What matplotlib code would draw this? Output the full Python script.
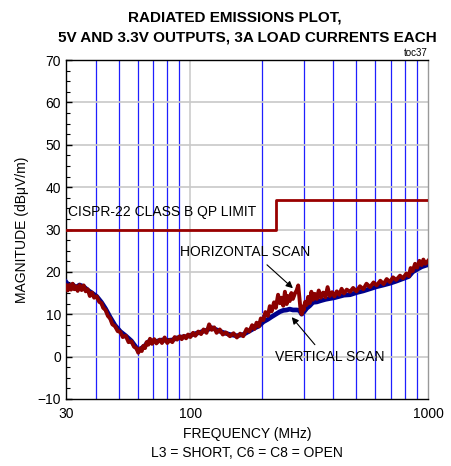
import matplotlib
matplotlib.use('Agg')
import matplotlib.pyplot as plt
import numpy as np

plt.rcParams['font.family'] = ['Liberation Sans', 'DejaVu Sans']

# values (MHz, dBuV/m)
horiz_f = [30, 30.5, 31, 31.5, 32, 32.5, 33, 33.6, 34.2, 34.9, 35.6, 36.3, 37, 37.8, 38.6,
           39.4, 40.4, 41.4, 42.3, 43.0, 44, 45, 46, 47, 48.2, 49.5, 50.8, 52, 53.5, 55,
           56.5, 58, 59.3, 60.4, 61.5, 62.5, 63.4, 64.5, 65.5, 66.6, 67.7, 69, 70.5, 72,
           74.4, 76, 78, 80, 82, 84, 86, 88, 90.3, 92, 94, 96, 97.8, 100, 102.7, 105, 108,
           111, 113.7, 117, 120, 123, 126, 129, 133, 137, 141, 146.8, 152, 157, 162, 167,
           172.4, 177, 182, 186, 190, 194, 198, 202.8, 207, 212, 216, 220, 225, 229, 234,
           238.3, 242, 246, 250, 254.4, 258, 262, 266, 270, 275.5, 280, 284.4, 288, 291,
           294, 297, 300, 304, 308.7, 313, 318, 323, 328, 334, 340.4, 347, 354, 362, 370,
           378, 386, 395, 404, 413.3, 423, 433, 443, 455, 469.8, 484, 500, 517, 534.2, 551,
           570, 590, 608, 630, 650, 670, 691.2, 712, 735, 762, 785, 810, 830, 845, 862,
           881.8, 900, 920, 940, 955.5, 975, 1000]
horiz_db = [16.8, 15.6, 16.9, 15.8, 17.2, 15.9, 16.6, 15.5, 16.9, 15.7, 16.8, 15.4, 15.9, 14.3, 15.1,
            13.9, 14.2, 12.9, 12.6, 11.5, 11.0, 9.6, 9.0, 7.6, 7.2, 6.0, 5.8, 4.6, 4.9, 3.4,
            3.6, 2.3, 2.0, 0.9, 1.9, 1.3, 2.5, 2.0, 3.4, 2.8, 4.2, 3.0, 4.1, 3.1,
            4.0, 3.2, 4.5, 3.2, 3.9, 3.4, 4.6, 4.0, 4.8, 4.1, 4.9, 4.3, 5.2, 4.6, 5.6, 4.9, 5.9,
            5.3, 6.4, 5.6, 7.6, 6.3, 6.9, 5.6, 6.4, 5.2, 5.7, 4.8, 5.5, 4.5, 5.4, 4.8,
            6.5, 5.9, 7.4, 6.5, 8.0, 7.1, 9.0, 8.6, 10.5, 9.6, 11.9, 10.7, 12.8, 11.5, 14.6,
            12.6, 13.9, 12.0, 15.3, 12.4, 14.3, 13.1, 15.0, 13.6, 14.9, 15.6, 16.8, 13.6, 11.0,
            10.0, 11.8, 11.0, 12.9, 12.2, 14.1, 12.6, 15.3, 13.4, 14.8, 13.6, 15.6, 13.9, 15.1, 14.0,
            16.4, 14.3, 15.2, 14.2, 15.4, 14.6, 16.0, 14.9, 15.8, 15.3, 16.2, 15.4, 16.6, 15.9, 17.2,
            16.4, 17.5, 16.8, 17.9, 17.1, 18.3, 17.6, 18.7, 18.1, 19.1, 18.5, 19.6, 19.0, 20.9, 20.2,
            21.9, 21.0, 22.6, 21.6, 22.9, 21.9, 22.6]

vert_f = [30, 31, 32, 33, 34.2, 35.6, 37, 38.6, 40.4, 42.3, 44, 46, 48.2, 50.8, 53.5,
          56.5, 59.3, 60.4, 62.5, 64.5, 66.6, 69, 72, 76, 80, 84, 88, 92, 96, 100, 105,
          111, 117, 123, 129, 137, 146.8, 157, 167, 177, 186, 194, 202.8, 212, 220, 229,
          238.3, 246, 254.4, 262, 270, 280, 288, 294, 300, 308.7, 318, 328, 340.4, 354,
          370, 386, 404, 423, 443, 469.8, 500, 534.2, 570, 608, 650, 691.2, 735, 785,
          830, 862, 900, 940, 975, 1000]
vert_db = [17.6, 16.6, 17.0, 16.3, 16.9, 16.5, 15.7, 15.0, 14.2, 12.8, 11.3, 9.3, 7.4, 5.9, 4.9,
           3.7, 2.1, 1.5, 2.0, 2.6, 3.5, 3.7, 3.6, 3.9, 3.8, 3.9, 4.4, 4.6, 4.7, 5.0, 5.4,
           5.8, 6.2, 6.8, 6.3, 5.7, 5.2, 4.9, 5.2, 6.0, 6.7, 7.2, 8.2, 8.8, 9.4, 10.0,
           10.6, 10.9, 11.0, 11.2, 11.0, 11.0, 10.9, 10.0, 10.5, 11.4, 12.0, 12.8, 12.9, 13.2,
           13.5, 13.7, 13.9, 14.2, 14.5, 14.6, 15.1, 15.5, 16.0, 16.5, 16.9, 17.3, 17.8, 18.4,
           18.9, 20.0, 20.6, 21.2, 21.5, 21.7]

limit_f = [30, 230, 230, 1000]
limit_db = [30, 30, 37, 37]

fig = plt.figure(figsize=(4.52, 4.66), dpi=100)
ax = fig.add_axes([0.146, 0.144, 0.801, 0.727])

ax.semilogx(vert_f, vert_db, color='#00008b', lw=3.4, zorder=3)
ax.semilogx(horiz_f, horiz_db, color='#8b0000', lw=2.8, zorder=4)
ax.semilogx(limit_f, limit_db, color='#990000', lw=2.0, zorder=5)

ax.set_xlim(30, 1000)
ax.set_ylim(-10, 70)
ax.set_xticks([30, 100, 1000])
ax.set_xticklabels(['30', '100', '1000'])
minors = [40, 50, 60, 70, 80, 90, 200, 300, 400, 500, 600, 700, 800, 900]
ax.set_xticks(minors, minor=True)
ax.set_xticklabels([''] * len(minors), minor=True)
ax.set_yticks(np.arange(-10, 71, 10))
ax.set_yticks(np.arange(-10, 70, 2.5), minor=True)

for f in minors:
    ax.axvline(f, color='#1f1fff', lw=0.9, zorder=1)
ax.axvline(100, color='#cccccc', lw=1.2, zorder=1)
for v in range(0, 70, 10):
    ax.axhline(v, color='#c8c8c8', lw=1.2, zorder=1)

ax.tick_params(axis='both', which='both', direction='in', labelsize=10)
ax.tick_params(axis='x', which='both', length=0, pad=6)
ax.tick_params(axis='y', which='major', length=4, width=1)
ax.tick_params(axis='y', which='minor', length=3, width=0.8)
for s in ax.spines.values():
    s.set_linewidth(1.0)
ax.spines['right'].set_color('#999999')

ax.set_xlabel('FREQUENCY (MHz)', fontsize=10, labelpad=4)
ax.set_ylabel('MAGNITUDE (dB\u03bcV/m)', fontsize=10, labelpad=6)

fig.text(0.52, 0.978, 'RADIATED EMISSIONS PLOT,', ha='center', va='top',
         fontsize=11, fontweight='bold')
fig.text(0.547, 0.935, '5V AND 3.3V OUTPUTS, 3A LOAD CURRENTS EACH', ha='center', va='top',
         fontsize=11, fontweight='bold')
fig.text(0.945, 0.886, 'toc37', ha='right', va='center', fontsize=7)
fig.text(0.547, 0.028, 'L3 = SHORT, C6 = C8 = OPEN', ha='center', va='center', fontsize=10)

ax.text(30.6, 34.1, 'CISPR-22 CLASS B QP LIMIT', ha='left', va='center', fontsize=10, zorder=6)
ax.text(90.3, 24.7, 'HORIZONTAL SCAN', ha='left', va='center', fontsize=10, zorder=6)
ax.annotate('', xy=(275.5, 15.7), xytext=(206, 22.1),
            arrowprops=dict(arrowstyle='-|>', color='black', lw=0.8, mutation_scale=10), zorder=6)
ax.text(227, 0.0, 'VERTICAL SCAN', ha='left', va='center', fontsize=10, zorder=6)
ax.annotate('', xy=(262.6, 9.8), xytext=(340, 2.3),
            arrowprops=dict(arrowstyle='-|>', color='black', lw=0.8, mutation_scale=10), zorder=6)

fig.savefig('out.png', dpi=100)
